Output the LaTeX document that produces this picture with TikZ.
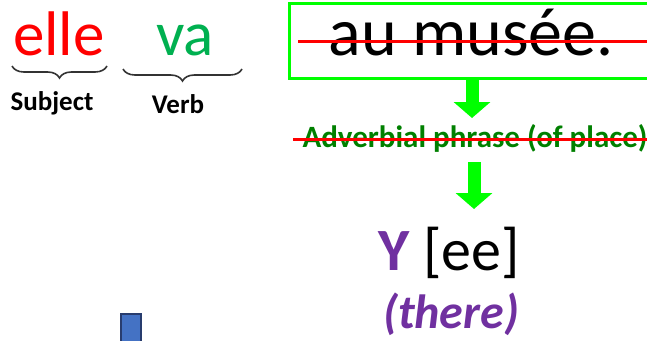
\documentclass[tikz,border=0pt]{standalone}
\usepackage{fontspec}
\setmainfont{Carlito}
\usetikzlibrary{arrows.meta,decorations.pathreplacing}
\definecolor{verbgreen}{RGB}{0,176,80}
\definecolor{boxgreen}{RGB}{0,255,0}
\definecolor{advgreen}{RGB}{0,128,0}
\definecolor{ypurple}{RGB}{112,48,160}
\definecolor{barblue}{RGB}{68,114,196}
\definecolor{barnavy}{RGB}{40,60,110}
\tikzset{
  bigword/.style={anchor=base, font=\fontsize{63}{70}\selectfont},
  tag/.style={anchor=base, font=\fontsize{27}{30}\selectfont\bfseries},
  bracket/.style={decorate, decoration={brace, mirror, amplitude=12}, line width=1.6pt, black!80},
  strike/.style={red, line width=3pt},
  downarrow/.style={boxgreen, line width=13pt, -{Triangle[length=16pt, width=36pt]}}
}
\begin{document}
\begin{tikzpicture}[x=1pt, y=-1pt]
  \useasboundingbox (0,0) rectangle (647,340);
  \clip (0,0) rectangle (647,340);

  % Subject and verb
  \node[bigword, red] (elle) at (59,55) {elle};
  \node[bigword, verbgreen] (va) at (185,55) {va};
  \draw[bracket] (12,66) -- (107,66);
  \draw[bracket] (123,69) -- (242,69);
  \node[tag] (subject) at (52,110) {Subject};
  \node[tag] (verb) at (178,113) {Verb};

  % Crossed-out phrase
  \node[draw=boxgreen, line width=3pt, minimum width=366, minimum height=75] (box) at (472,40.5) {};
  \node[bigword, font=\fontsize{68}{76}\selectfont] (musee) at (471,55) {au musée.};
  \draw[strike] (298,41) -- (650,41);

  % Adverbial phrase
  \node[tag, font=\fontsize{31}{34}\selectfont\bfseries, advgreen] (adv) at (475,147) {Adverbial phrase (of place)};
  \draw[strike] (293,139) -- (650,139);

  % Replacement
  \node[bigword, font=\fontsize{60}{68}\selectfont] (y) at (449,270) {\textcolor{ypurple}{\bfseries Y} [ee]};
  \node[anchor=base, ypurple, font=\fontsize{48}{56}\selectfont\bfseries\itshape] (there) at (451,328) {(there)};

  % Arrows
  \coordinate (tip1) at (472,118);
  \coordinate (tail2) at (474,162);
  \coordinate (tip2) at (474,209);
  \draw[downarrow] (box.south) -- (tip1);
  \draw[downarrow] (tail2) -- (tip2);

  % Blue bar
  \draw[fill=barblue, draw=barnavy, line width=1.5pt] (121,314) rectangle (141,350);
\end{tikzpicture}
\end{document}
